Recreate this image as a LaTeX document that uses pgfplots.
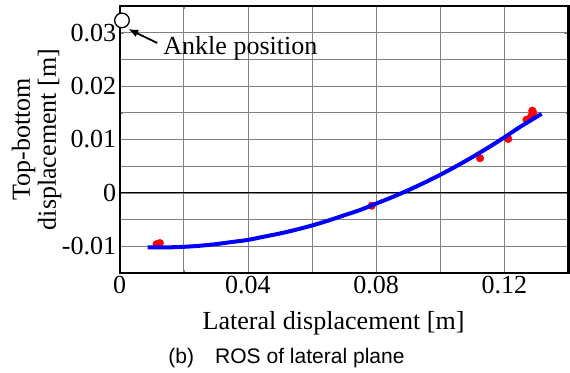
\documentclass[border=0pt]{standalone}
\usepackage{fontspec}
\setmainfont{Liberation Serif}
\newfontfamily\capfont{Liberation Sans}
\usepackage{pgfplots}
\pgfplotsset{compat=1.18}
\usetikzlibrary{arrows.meta}
\begin{document}
\begin{tikzpicture}
\begin{axis}[
  name=ax,
  scale only axis, width=448pt, height=266.5pt,
  xmin=0, xmax=0.14, ymin=-0.015, ymax=0.035,
  scaled x ticks=false, scaled y ticks=false,
  clip mode=individual,
  xtick={0,0.04,0.08,0.12}, xticklabels={0,0.04,0.08,0.12},
  minor xtick={0.02,0.06,0.10,0.14},
  ytick={-0.01,0,0.01,0.02,0.03}, yticklabels={-0.01,0,0.01,0.02,0.03},
  minor ytick={-0.005,0.005,0.015,0.025},
  grid=both,
  grid style={color=black!50, line width=0.7pt},
  axis line style={line width=2.2pt},
  tick label style={font=\fontsize{26}{26}\selectfont},
]
\draw[black, line width=0.9pt] (axis cs:0,0) -- (axis cs:0.14,0);
\addplot[only marks, mark=*, color=red, mark size=3.8pt] coordinates {
 (0.0115,-0.0096) (0.0125,-0.0094) (0.0786,-0.0024) (0.1124,0.0065)
 (0.1212,0.0101) (0.1269,0.0137) (0.1283,0.0143) (0.1287,0.0154) (0.1290,0.0150)
};
\addplot[blue, line width=4pt, smooth, no marks] coordinates {
 (0.0087,-0.0102) (0.015,-0.0102) (0.02,-0.0101) (0.025,-0.0099) (0.03,-0.0096)
 (0.035,-0.0092) (0.04,-0.0088) (0.045,-0.0082) (0.05,-0.0076) (0.055,-0.0069)
 (0.06,-0.0061) (0.065,-0.0052) (0.07,-0.0042) (0.075,-0.0032) (0.08,-0.0020)
 (0.085,-0.0008) (0.09,0.0005) (0.095,0.0019) (0.10,0.0034) (0.105,0.0050)
 (0.11,0.0067) (0.115,0.0085) (0.12,0.0104) (0.125,0.0124) (0.1316,0.0148)
};
\end{axis}
\draw[line width=2.2pt] (ax.north west) -- (ax.north east) -- (ax.south east);
\begin{axis}[
  scale only axis, width=448pt, height=266.5pt,
  xmin=0, xmax=0.14, ymin=-0.015, ymax=0.035,
  clip=false, hide axis,
]
\draw[line width=1.8pt, -{Latex[length=10pt,width=8pt]}] (axis cs:0.01169,0.02808) -- (axis cs:0.00265,0.0307);
\addplot[only marks, mark=*, mark size=7.3pt, mark options={fill=white, draw=black, line width=1.3pt}] coordinates {(0.0007,0.0323)};
\node[anchor=base west, inner sep=0pt, font=\fontsize{26}{26}\selectfont] at (axis cs:0.01356,0.02584) {Ankle position};
\end{axis}
\path (-119.5pt,-99.5pt) rectangle (449.5pt,272.5pt);
\node[rotate=90, align=center, font=\fontsize{26}{26}\selectfont] at (-83pt,133.25pt) {Top-bottom\\displacement [m]};
\node[anchor=base, inner sep=0pt, font=\fontsize{26}{26}\selectfont] at (213.5pt,-56.5pt) {Lateral displacement [m]};
\node[anchor=base, inner sep=0pt, font=\capfont\fontsize{21}{21}\selectfont] at (166.5pt,-90.8pt) {(b)\hspace{21pt}ROS of lateral plane};
\end{tikzpicture}
\end{document}
